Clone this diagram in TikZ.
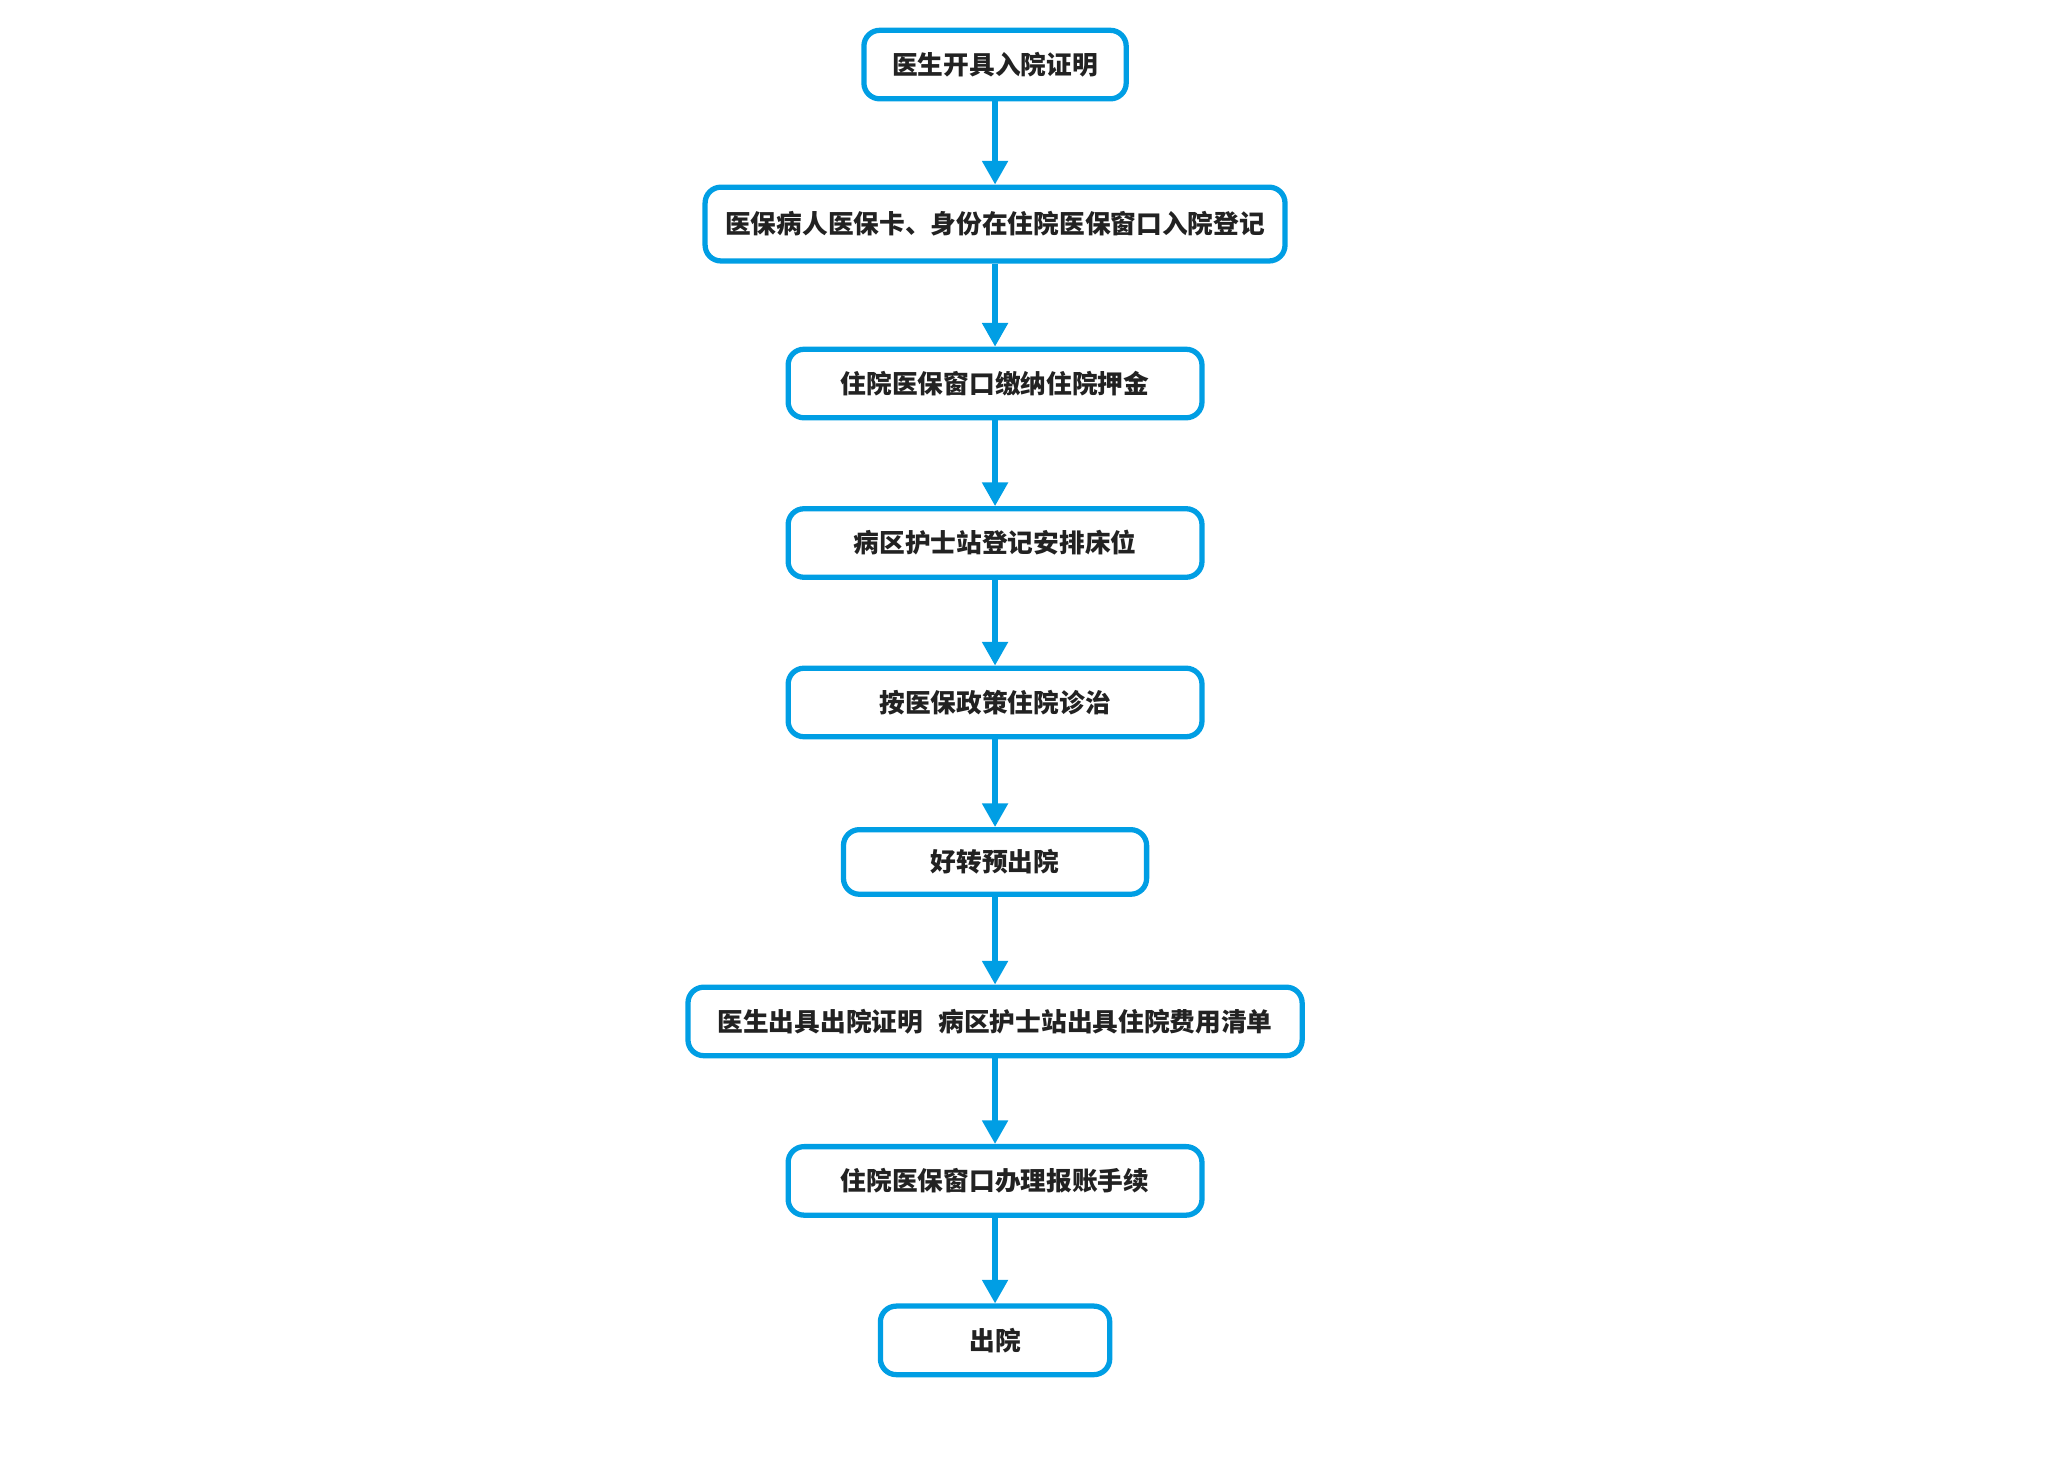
\documentclass[tikz,border=0pt]{standalone}
\usepackage{fontspec}
\setmainfont{Noto Sans CJK SC}
\usetikzlibrary{arrows.meta}
\definecolor{flowblue}{RGB}{0,158,228}
\definecolor{flowtext}{RGB}{34,34,34}
\begin{document}
\begin{tikzpicture}[x=1pt,y=1pt,
  stepbox/.style={draw=flowblue, line width=4pt, rounded corners=12pt, fill=white,
    inner sep=0pt, align=center, text=flowtext,
    font=\fontsize{19.5}{23}\selectfont\bfseries},
  flow/.style={draw=flowblue, line width=4pt, -{Triangle[width=19pt,length=18pt]}}]
\useasboundingbox (0,0) rectangle (1560,-1117);
\node[stepbox, minimum width=199pt, minimum height=52pt] (n1) at (755,-49) {医生开具入院证明};
\node[stepbox, minimum width=440pt, minimum height=56pt] (n2) at (755,-170) {医保病人医保卡、身份在住院医保窗口入院登记};
\node[stepbox, minimum width=314pt, minimum height=52pt] (n3) at (755,-291) {住院医保窗口缴纳住院押金};
\node[stepbox, minimum width=314pt, minimum height=52pt] (n4) at (755,-412) {病区护士站登记安排床位};
\node[stepbox, minimum width=314pt, minimum height=52pt] (n5) at (755,-533) {按医保政策住院诊治};
\node[stepbox, minimum width=230pt, minimum height=49pt] (n6) at (755,-654) {好转预出院};
\node[stepbox, minimum width=466pt, minimum height=52pt] (n7) at (755,-775) {医生出具出院证明\hspace{0.6em}病区护士站出具住院费用清单};
\node[stepbox, minimum width=314pt, minimum height=52pt] (n8) at (755,-896) {住院医保窗口办理报账手续};
\node[stepbox, minimum width=174pt, minimum height=52pt] (n9) at (755,-1017) {出院};
\draw[flow] (n1.south) -- (n2.north);
\draw[flow] (n2.south) -- (n3.north);
\draw[flow] (n3.south) -- (n4.north);
\draw[flow] (n4.south) -- (n5.north);
\draw[flow] (n5.south) -- (n6.north);
\draw[flow] (n6.south) -- (n7.north);
\draw[flow] (n7.south) -- (n8.north);
\draw[flow] (n8.south) -- (n9.north);
\end{tikzpicture}
\end{document}
